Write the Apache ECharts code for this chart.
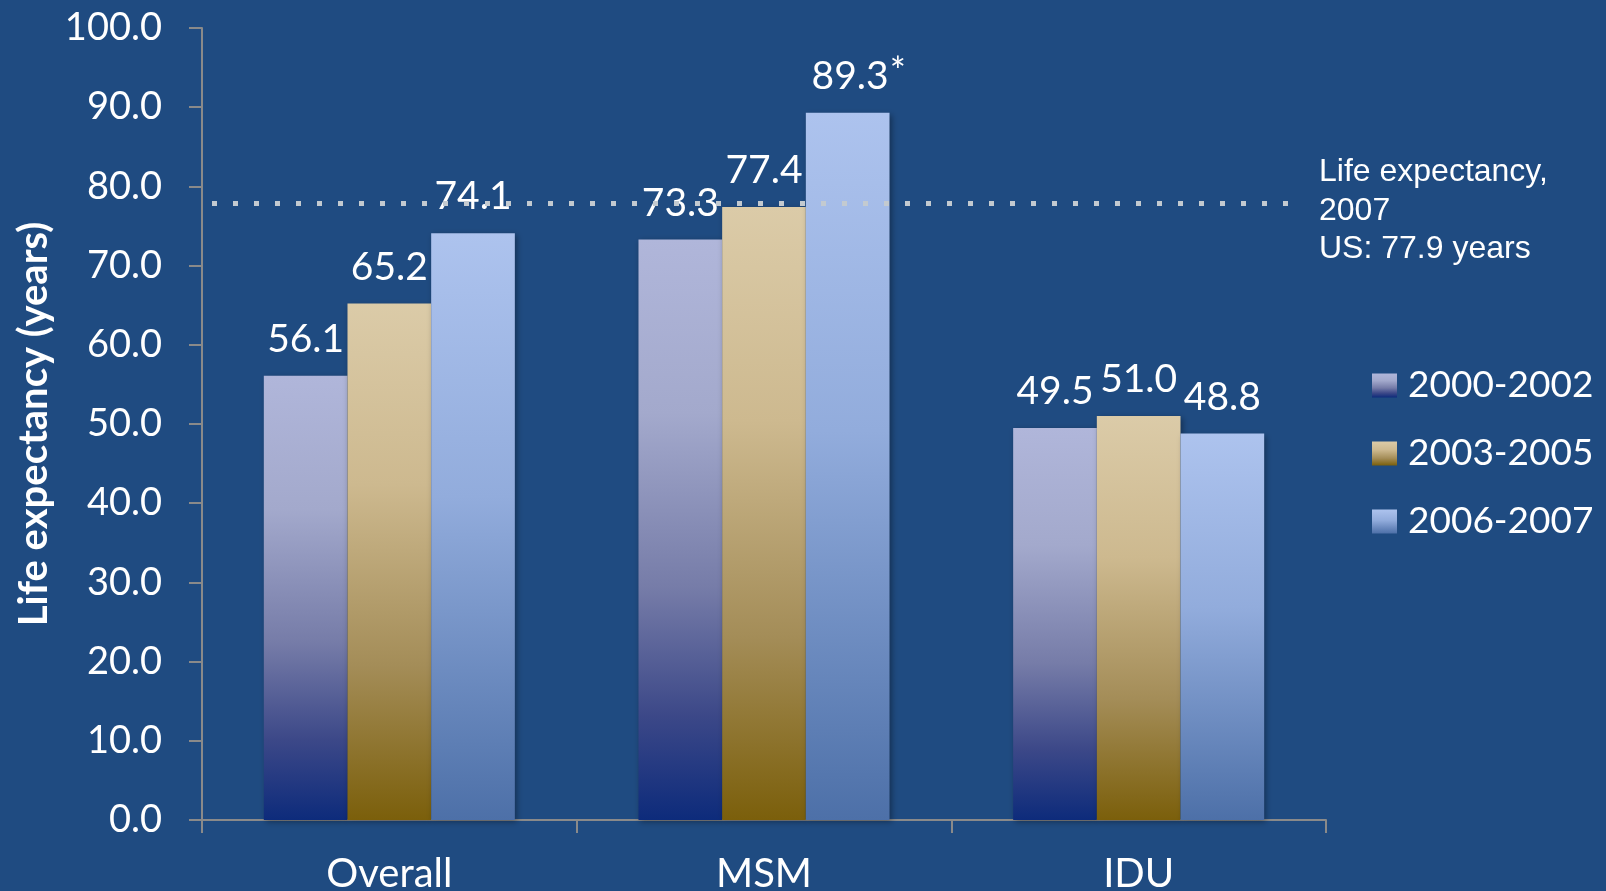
<!DOCTYPE html>
<html>
<head>
<meta charset="utf-8">
<title>Life expectancy</title>
<script src="https://cdn.jsdelivr.net/npm/echarts@6/dist/echarts.min.js"></script>
<style>
  html, body { margin: 0; padding: 0; background: #1F4B81; }
  #chart { width: 1606px; height: 891px; }
</style>
</head>
<body>
<div id="chart"></div>
<script>
// Categories and series values
const categories = ['Overall', 'MSM', 'IDU'];
const seriesNames = ['2000-2002', '2003-2005', '2006-2007'];
const values2000_2002 = [56.1, 73.3, 49.5];
const values2003_2005 = [65.2, 77.4, 51.0];
const values2006_2007 = [74.1, 89.3, 48.8];
const usLifeExpectancy2007 = 77.9;
const referenceNote = ['Life expectancy,', '2007', 'US: 77.9 years'];
// bar that carries a significance asterisk: [series index, category index]
const starredBar = [2, 1];

const FONT = 'Lato';
const WHITE = '#FFFFFF';

function grad(stops) {
  return new echarts.graphic.LinearGradient(0, 0, 0, 1,
    stops.map(s => ({ offset: s[0], color: s[1] })));
}

const fills = [
  grad([[0, '#B0B6DA'], [0.3, '#A3A9CC'], [0.6, '#767CA8'], [0.82, '#3C4888'], [1, '#0D2B7B']]),
  grad([[0, '#DBCBA8'], [0.35, '#CDB98F'], [0.7, '#A48D58'], [1, '#7B5F0B']]),
  grad([[0, '#ADC3EE'], [0.45, '#92ACDC'], [1, '#4D70A8']])
];

const allValues = [values2000_2002, values2003_2005, values2006_2007];

const chart = echarts.init(document.getElementById('chart'), null, { renderer: 'canvas' });

const series = allValues.map((vals, si) => ({
  name: seriesNames[si],
  type: 'bar',
  barGap: '0%',
  barCategoryGap: '33%',
  data: vals.map((v, ci) => {
    const item = { value: v };
    if (si === starredBar[0] && ci === starredBar[1]) {
      item.label = {
        formatter: p => '{v|' + p.value.toFixed(1) + '}{s|*}',
        offset: [11, 4]
      };
    }
    return item;
  }),
  itemStyle: {
    color: fills[si],
    shadowColor: 'rgba(0,0,0,0.35)',
    shadowBlur: 6,
    shadowOffsetX: 2,
    shadowOffsetY: 2
  },
  label: {
    show: true,
    position: 'top',
    distance: 17,
    color: WHITE,
    fontFamily: FONT,
    fontSize: 39,
    formatter: p => p.value.toFixed(1),
    rich: {
      v: { color: WHITE, fontFamily: FONT, fontSize: 39, lineHeight: 46 },
      s: { color: WHITE, fontFamily: FONT, fontSize: 38, lineHeight: 46, verticalAlign: 'top', padding: [0, 0, 0, 1] }
    }
  },
  markLine: si === 0 ? {
    silent: true,
    symbol: 'none',
    z: 10,
    label: { show: false },
    lineStyle: { type: [5, 16], width: 5, color: '#C3CAD0', cap: 'butt', opacity: 1 },
    data: [[{ x: 212, yAxis: usLifeExpectancy2007 }, { x: 1288, yAxis: usLifeExpectancy2007 }]]
  } : undefined
}));

chart.setOption({
  backgroundColor: '#1F4B81',
  animation: false,
  grid: { left: 202, right: 280, top: 28, bottom: 71, containLabel: false, outerBoundsMode: 'none' },
  legend: {
    orient: 'vertical',
    left: 1372,
    top: 367,
    padding: 0,
    itemWidth: 25,
    itemHeight: 24,
    itemGap: 31,
    icon: 'rect',
    data: seriesNames,
    textStyle: { color: WHITE, fontFamily: FONT, fontSize: 37, lineHeight: 24, padding: [0, 0, 0, 6] }
  },
  xAxis: {
    type: 'category',
    data: categories,
    axisLine: { show: true, lineStyle: { color: '#8A8A8A', width: 2 } },
    axisTick: { show: true, length: 13, lineStyle: { color: '#8A8A8A', width: 2 } },
    axisLabel: { color: WHITE, fontFamily: FONT, fontSize: 40, margin: 34 }
  },
  yAxis: {
    type: 'value',
    min: 0,
    max: 100,
    interval: 10,
    name: 'Life expectancy (years)',
    nameLocation: 'middle',
    nameGap: 142,
    nameTextStyle: { color: WHITE, fontFamily: FONT, fontWeight: 'bold', fontSize: 40 },
    axisLine: { show: true, lineStyle: { color: '#8A8A8A', width: 2 } },
    axisTick: { show: true, length: 13, lineStyle: { color: '#8A8A8A', width: 2 } },
    splitLine: { show: false },
    axisLabel: {
      color: WHITE, fontFamily: FONT, fontSize: 38, margin: 40,
      formatter: v => v.toFixed(1)
    }
  },
  graphic: [{
    type: 'text',
    left: 1319,
    top: 153,
    style: {
      text: referenceNote.join('\n'),
      fill: WHITE,
      font: '32px "Liberation Sans", Arial, sans-serif',
      lineHeight: 38.5
    }
  }],
  series: series
});
</script>
</body>
</html>
